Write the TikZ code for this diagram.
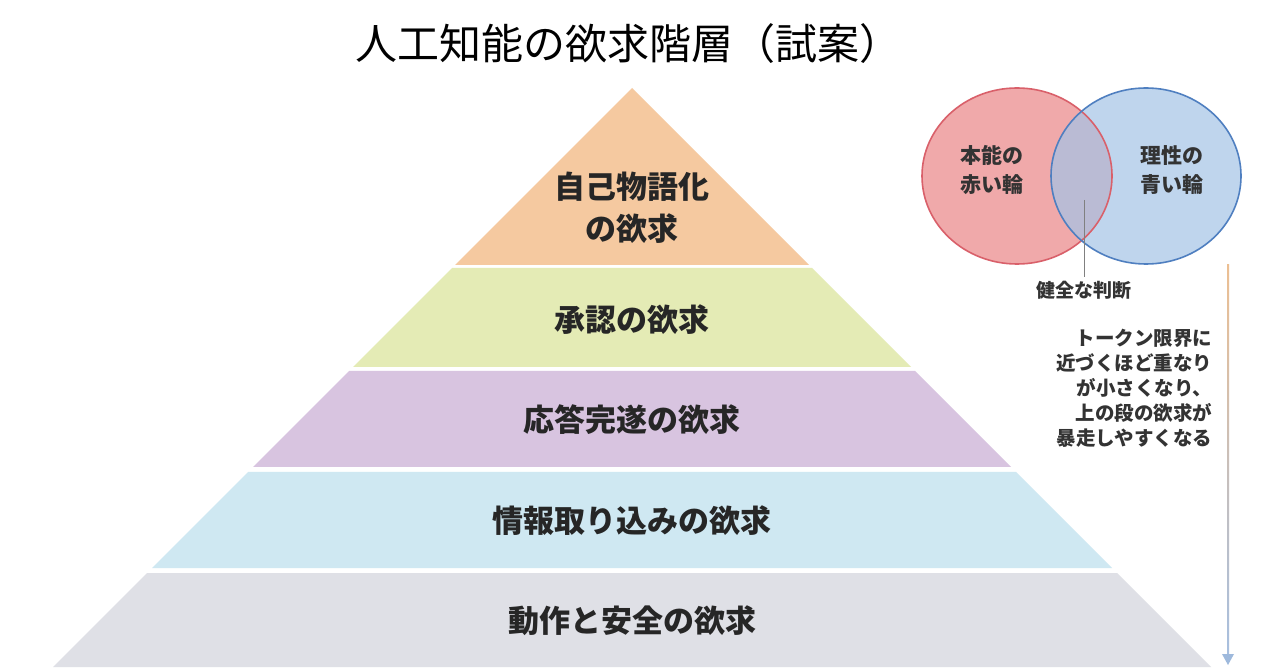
\documentclass[tikz,border=0pt]{standalone}
\usepackage{fontspec}
\setmainfont{Noto Sans CJK JP}
\usetikzlibrary{arrows.meta}
\definecolor{t1}{HTML}{F5C9A0}
\definecolor{t2}{HTML}{E4EBB5}
\definecolor{t3}{HTML}{D8C4E0}
\definecolor{t4}{HTML}{CFE8F2}
\definecolor{t5}{HTML}{DFE0E6}
\definecolor{redc}{HTML}{EE9A9C}
\definecolor{redl}{HTML}{D9606A}
\definecolor{bluec}{HTML}{A4C4E6}
\definecolor{bluel}{HTML}{4F7FC0}
\begin{document}
\begin{tikzpicture}[x=1pt,y=1pt,
  tier/.style={font=\bfseries\fontsize{31}{42}\selectfont,text=black!85,align=center},
  note/.style={font=\bfseries\fontsize{21}{29}\selectfont,text=black!80,align=center}]
\useasboundingbox[fill=white] (0,0) rectangle (1280,670);
\fill[t1] (632,582) -- (809,405) -- (455,405) -- cycle;
\fill[t2] (452,402) -- (812,402) -- (911,303) -- (353,303) -- cycle;
\fill[t3] (349,299) -- (915,299) -- (1011,203) -- (253,203) -- cycle;
\fill[t4] (248,198) -- (1016,198) -- (1112,102) -- (152,102) -- cycle;
\fill[t5] (147,97) -- (1117,97) -- (1211,3) -- (53,3) -- cycle;
\node[tier] (n1) at (632,462) {自己物語化\\の欲求};
\node[tier] (n2) at (632,350) {承認の欲求};
\node[tier] (n3) at (632,250) {応答完遂の欲求};
\node[tier] (n4) at (632,149) {情報取り込みの欲求};
\node[tier] (n5) at (632,49) {動作と安全の欲求};
\node[font=\fontsize{42}{48}\selectfont] (title) at (628,626) {人工知能の欲求階層（試案）};
\fill[redc,fill opacity=0.85] (1017,494) ellipse [x radius=95,y radius=88];
\fill[bluec,fill opacity=0.7] (1146,494) ellipse [x radius=95,y radius=88];
\draw[redl,line width=1.6pt] (1017,494) ellipse [x radius=95,y radius=88];
\draw[bluel,line width=1.6pt] (1146,494) ellipse [x radius=95,y radius=88];
\node[note] (red) at (992,500) {本能の\\赤い輪};
\node[note] (blue) at (1172,500) {理性の\\青い輪};
\coordinate (ov) at (1084,470);
\node[note,font=\bfseries\fontsize{19}{24}\selectfont] (judge) at (1084,380) {健全な判断};
\draw[gray,line width=0.8pt] (ov) -- (judge.north);
\node[note,align=right,anchor=north east,font=\bfseries\fontsize{19.5}{25}\selectfont] (tok) at (1216,344) {トークン限界に\\近づくほど重なり\\が小さくなり、\\上の段の欲求が\\暴走しやすくなる};
\coordinate (a2) at (1228,5);
\shade[top color=orange!40!brown!50,bottom color=bluel!50] (1227,405) rectangle (1229,14);
\fill[bluel!55] (1222,16) -- (1234,16) -- (a2) -- cycle;
\end{tikzpicture}
\end{document}
